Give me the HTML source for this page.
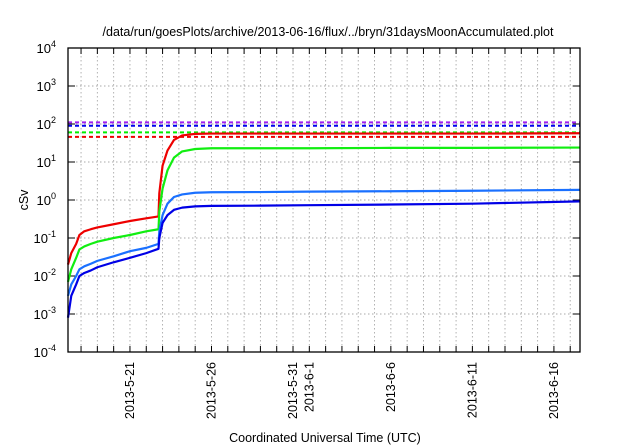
<!DOCTYPE html>
<html><head><meta charset="utf-8"><style>
body{margin:0;background:#fff}
svg{display:block;font-family:"Liberation Sans",sans-serif}
</style></head><body>
<svg id="c" width="640" height="448"></svg>
<script>
const titleText="/data/run/goesPlots/archive/2013-06-16/flux/../bryn/31daysMoonAccumulated.plot";
const days=[0.2,0.4,0.7,0.9,1.2,1.6,2,3,4,5,5.75,5.8,6.0,6.3,6.7,7.2,8,9,12,15,20,25,31.6];
const redVals=[0.02,0.04,0.07,0.12,0.15,0.17,0.19,0.23,0.28,0.33,0.37,1.5,8,20,38,50,55,56,56,56,56,56,57];
const greenVals=[0.007,0.015,0.03,0.05,0.06,0.07,0.08,0.1,0.12,0.15,0.17,0.5,2,6,13,19,22,23,23,23,23.5,23.5,24];
const lblueVals=[0.003,0.006,0.01,0.015,0.018,0.021,0.025,0.033,0.045,0.055,0.07,0.15,0.4,0.8,1.2,1.4,1.55,1.6,1.62,1.66,1.7,1.75,1.85];
const dblueVals=[0.0008,0.003,0.006,0.01,0.012,0.014,0.017,0.023,0.03,0.04,0.052,0.1,0.25,0.4,0.55,0.63,0.68,0.7,0.71,0.73,0.76,0.8,0.92];
const limitVals=[110,90,60,46];
const limitColors=["#a020f0","#0000ee","#00ee00","#ee0000"];
const xTickDays=[4,9,14,15,20,25,30];
const xTickLabels=["2013-5-21","2013-5-26","2013-5-31","2013-6-1","2013-6-6","2013-6-11","2013-6-16"];
const yExps=[-4,-3,-2,-1,0,1,2,3,4];

const L=68,R=580,T=48,B=352,D0=0.2,D1=31.6;
const X=d=>L+(d-D0)/(D1-D0)*(R-L);
const Y=v=>200-38*Math.log10(v);
const svg=document.getElementById('c');
const NS="http://www.w3.org/2000/svg";
function mk(t,a,p){const e=document.createElementNS(NS,t);for(const k in a)e.setAttribute(k,a[k]);(p||svg).appendChild(e);return e;}

for(let d=1;d<=31;d++){const x=X(d);
 const g=mk('line',{x1:x,x2:x,y1:T,y2:B,stroke:'#aaa','stroke-width':0.9,'stroke-dasharray':'1.5,2.5'});
 
 
 const t1=mk('line',{x1:x,x2:x,y1:B,y2:B-6,stroke:'#000','stroke-width':1});
 
 
 const t2=mk('line',{x1:x,x2:x,y1:T,y2:T+6,stroke:'#000','stroke-width':1});
 
 
}
yExps.forEach(e=>{const y=Y(Math.pow(10,e));
 if(e>-4&&e<4){const g=mk('line',{x1:L,x2:R,y1:y,y2:y,stroke:'#aaa','stroke-width':0.9,'stroke-dasharray':'1.5,2.5'});
 
 
 mk('line',{x1:L,x2:L+7,y1:y,y2:y,stroke:'#000'});mk('line',{x1:R,x2:R-7,y1:y,y2:y,stroke:'#000'});}
 const t=mk('text',{x:56,y:y+5,'text-anchor':'end','font-size':13});
 
 
 t.textContent='10';
 const s=mk('tspan',{dy:-6,'font-size':9},t);s.textContent=String(e);
});
limitVals.forEach((v,i)=>{const y=Y(v);
 const l=mk('line',{x1:L,x2:R,y1:y,y2:y,stroke:limitColors[i],'stroke-width':2,'stroke-dasharray':'4,3'});
 
 
});
[[redVals,'#ee0000','red-series'],[greenVals,'#11ee11','green-series'],[lblueVals,'#1a70ff','light-blue-series'],[dblueVals,'#0000e6','dark-blue-series']].forEach(([vals,c,n])=>{
 const p=mk('polyline',{points:days.map((d,i)=>X(d)+','+Y(vals[i])).join(' '),fill:'none',stroke:c,'stroke-width':2.2,'stroke-linejoin':'round'});
 
 
});
const fr=mk('rect',{x:L,y:T,width:R-L,height:B-T,fill:'none',stroke:'#000','stroke-width':1.3});


xTickDays.forEach((d,i)=>{const x=X(d)+4;
 const t=mk('text',{x:x,y:362,'text-anchor':'end','font-size':12.5,transform:`rotate(-90 ${x} 362)`});
 
 
 t.textContent=xTickLabels[i];
});
const tt=mk('text',{x:328,y:36,'text-anchor':'middle','font-size':12.5});


tt.textContent=titleText;
const yl=mk('text',{x:28,y:200,'text-anchor':'middle','font-size':12.5,transform:'rotate(-90 28 200)'});


yl.textContent='cSv';
const xl=mk('text',{x:325,y:442,'text-anchor':'middle','font-size':12.5});


xl.textContent='Coordinated Universal Time (UTC)';
</script>
</body></html>
